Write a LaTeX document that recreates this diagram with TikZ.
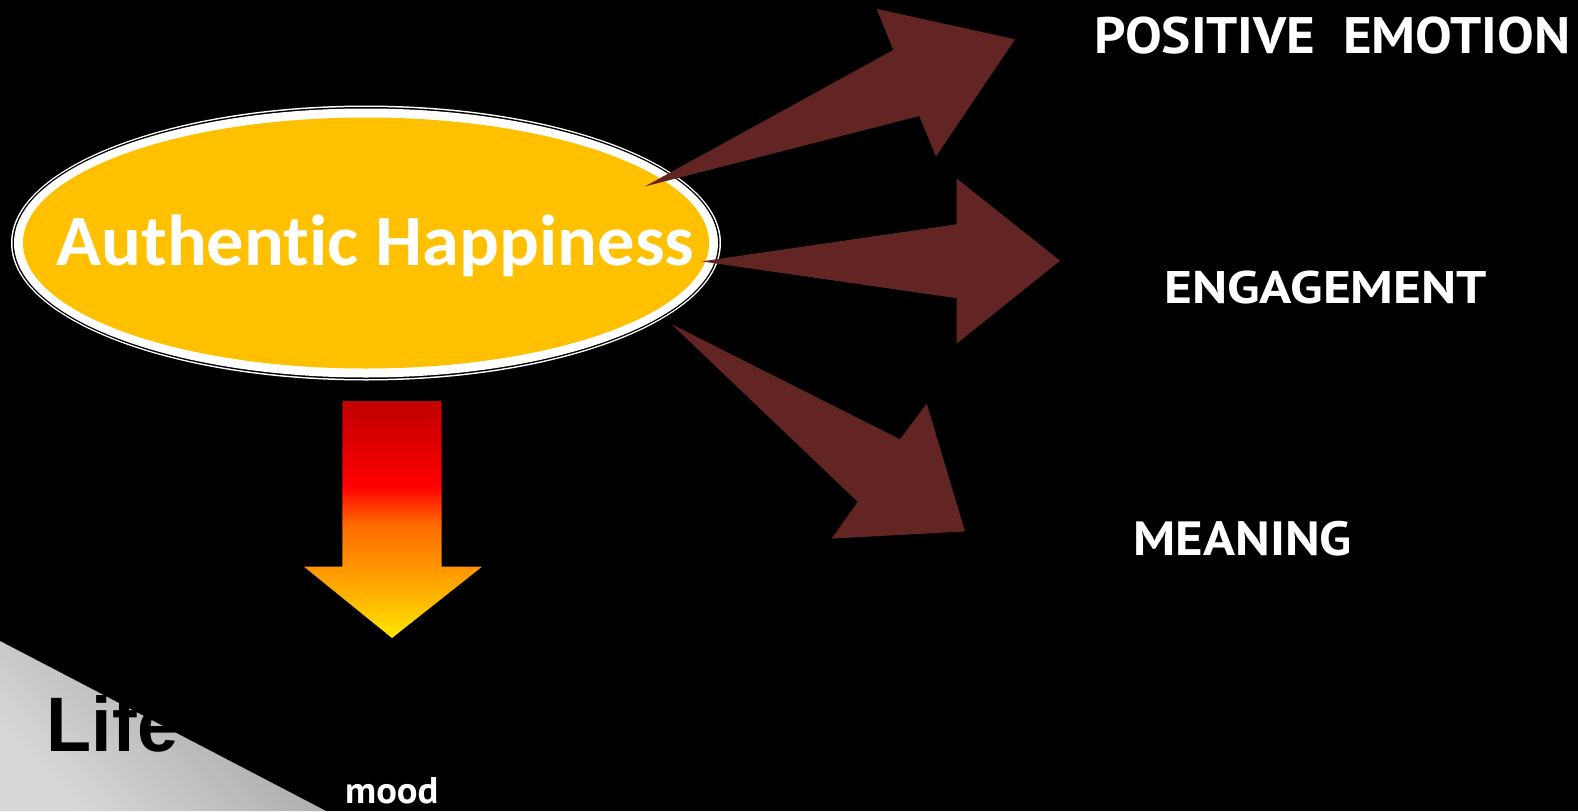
\documentclass[tikz,border=0pt]{standalone}
\usepackage{fontspec}
\usepackage{graphicx}
\newfontfamily\carlito[Ligatures=NoCommon]{Carlito}
\newfontfamily\arialf{Liberation Sans}
\newfontfamily\ptsans{PT Sans}
\definecolor{ahorange}{HTML}{FFC000}
\definecolor{arrred}{HTML}{632523}
\definecolor{g1}{HTML}{FFE800}
\definecolor{g2}{HTML}{FFC000}
\definecolor{g3}{HTML}{FF9500}
\definecolor{g4}{HTML}{FF6A00}
\definecolor{g5}{HTML}{FF0000}
\definecolor{g6}{HTML}{C00000}
\definecolor{grayA}{HTML}{A0A0A0}
\definecolor{grayB}{HTML}{D8D8D8}
\pgfdeclareverticalshading{downgrad}{100bp}{color(0bp)=(g1); color(25bp)=(g1); color(31.6bp)=(g2); color(40bp)=(g3); color(49bp)=(g4); color(57bp)=(g5); color(75bp)=(g6); color(100bp)=(g6)}
\begin{document}
\begin{tikzpicture}[x=1pt,y=-1pt,
  blockarrow/.style={fill=arrred},
  label/.style={anchor=base west, inner sep=0pt, text=white},
]
\fill[black] (0,0) rectangle (1578,811);
\useasboundingbox (0,0) rectangle (1578,811);

% gray corner
\shade[shading=axis, top color=grayA, bottom color=grayB, shading angle=-45]
  (0,641) -- (326,811) -- (0,811) -- cycle;
\node[anchor=base west, inner sep=0pt, text=black] (life) at (46.7,751.7)
  {\resizebox{131pt}{56pt}{\arialf\bfseries Life}};

% down gradient arrow
\coordinate (dtop) at (392,401);
\coordinate (dtip) at (392,638);
\shade[shading=downgrad]
  (342.3,401) -- (441.7,401) -- (441.7,566.7) -- (482,566.7) -- (dtip)
  -- (304,566.7) -- (342.3,566.7) -- cycle;

% ellipse
\coordinate (ec) at (366,243);
\fill[white] (ec) ellipse [x radius=355, y radius=137.5];
\fill[black] (ec) ellipse [x radius=353.5, y radius=136];
\fill[white] (ec) ellipse [x radius=352, y radius=134.5];
\fill[ahorange] (ec) ellipse [x radius=343, y radius=125.5];
\node[anchor=base west, inner sep=0pt, text=white] (ah) at (55.9,265.7)
  {\resizebox{637.8pt}{50.7pt}{\carlito\bfseries Authentic Happiness}};

% three block arrows
\fill[blockarrow] (645,186.4) -- (893.3,50) -- (876.7,8.9) -- (1015,39.3)
  -- (936,156.4) -- (919.3,116) -- cycle;
\fill[blockarrow] (701.7,261.4) -- (956.7,224.3) -- (956.7,178.6) -- (1060,260.7)
  -- (956.7,343.6) -- (956.7,298.2) -- cycle;
\fill[blockarrow] (671.7,324.3) -- (900,439.3) -- (926.7,403.6) -- (965,531.4)
  -- (831.7,538.6) -- (857.7,501.8) -- cycle;

% labels
\node[label] (pos) at (1094,53.3)
  {\resizebox{476pt}{36.6pt}{\ptsans\bfseries POSITIVE\ \ EMOTION}};
\node[label] (eng) at (1164,303.3)
  {\resizebox{322.7pt}{32.6pt}{\ptsans\bfseries ENGAGEMENT}};
\node[label] (mea) at (1133.3,555)
  {\resizebox{218.4pt}{34.3pt}{\ptsans\bfseries MEANING}};
\node[label] (mood) at (345,803.3)
  {\resizebox{93.3pt}{26pt}{\ptsans\bfseries mood}};
\end{tikzpicture}
\end{document}
